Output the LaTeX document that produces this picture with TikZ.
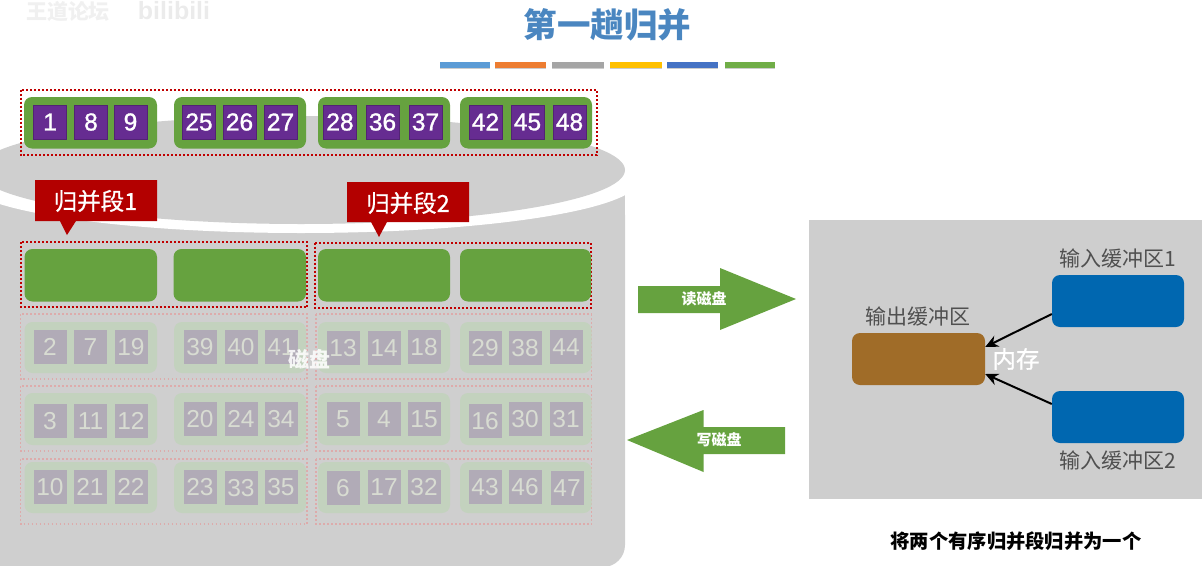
\documentclass[tikz,border=0pt]{standalone}
\usepackage{fontspec}
\setmainfont{Liberation Sans}
\newfontfamily\cjk{Noto Sans CJK SC}
\newfontfamily\cjkm[FakeBold=0.8]{Noto Sans CJK SC}
\newfontfamily\numf[FakeBold=1.2]{Liberation Sans}
\definecolor{diskgray}{HTML}{CFCFCF}
\definecolor{memgray}{HTML}{CECECE}
\definecolor{blockgreen}{HTML}{66A23F}
\definecolor{cellpurple}{HTML}{662C91}
\definecolor{tagred}{HTML}{B30000}
\definecolor{dotred}{HTML}{C00000}
\definecolor{titleblue}{HTML}{4A86C0}
\definecolor{inblue}{HTML}{0067B0}
\definecolor{outbrown}{HTML}{A06C28}
\definecolor{labelgray}{HTML}{505050}
\definecolor{fadegreen}{HTML}{C3D2BE}
\definecolor{fadepurple}{HTML}{B1ABB7}
\definecolor{fadetext}{HTML}{D8DCD2}
\definecolor{fadedot}{HTML}{DDABAB}
\newcommand{\fs}[1]{\fontsize{#1}{#1}\selectfont}
\usetikzlibrary{arrows.meta}
\tikzset{
  block/.style={fill=blockgreen,draw=none,rounded corners=8pt,inner sep=0pt},
  fadeblock/.style={fill=fadegreen,draw=none,rounded corners=8pt},
  dotbox/.style={draw=dotred,line width=2pt,dash pattern=on 2pt off 2pt},
  fadedotbox/.style={draw=fadedot,line width=1.6pt,dash pattern=on 1.8pt off 2.2pt},
  cellbox/.style={fill=cellpurple,draw=cellpurple!80!black,line width=.4pt,minimum width=33pt,minimum height=34pt,inner sep=0pt,text=white,font=\numf\fs{24.5}},
  fadecell/.style={fill=fadepurple,draw=none,minimum width=33pt,minimum height=34pt,inner sep=0pt,text=fadetext,font=\fs{24.5}},
  membox/.style={rounded corners=8pt,draw=none,minimum width=132pt,minimum height=52pt,inner sep=0pt},
  memlabel/.style={text=labelgray,font=\cjk\fs{21},inner sep=0pt},
  tagbox/.style={fill=tagred,draw=none},
  taglabel/.style={text=white,font=\cjkm\fs{23.5},inner sep=0pt},
  bigarrow/.style={fill=blockgreen,draw=none},
  arrowlabel/.style={text=white,font=\cjk\bfseries\fs{15},inner sep=0pt},
  merge/.style={-{Stealth[length=13pt,width=12pt]},line width=2pt,black}
}
\begin{document}
\begin{tikzpicture}[x=1pt,y=-1pt]
\useasboundingbox (0,0) rectangle (1202,565);
% watermark
\node[text=black!6,font=\cjk\bfseries\fs{21},inner sep=0pt] (wm1) at (68,12) {王道论坛};
\node[text=black!8,font=\bfseries\fs{25},inner sep=0pt] (wm2) at (174,11) {bilibili};
% title and bars
\node[text=titleblue,font=\cjk\bfseries\fs{33.5},inner sep=0pt] (title) at (607.5,25) {第一趟归并};
\foreach \a/\b/\c in {440/490/5B9BD5,495/546/ED7D31,552/604/A5A5A5,610/662/FFC000,667/718/4472C4,725/775/70AD47}{
  \definecolor{barc}{HTML}{\c}
  \fill[black!20] (\a,63) rectangle (\b,69);
  \fill[barc] (\a,61.5) rectangle (\b,67.5);
}
% disk
\fill[diskgray,rounded corners=22pt] (-30,193) -- (625,193) -- (625,567) -- (-30,567) -- cycle;
\fill[diskgray] (-23,193) rectangle (625,225);
\fill[white] (301,180) ellipse [x radius=338,y radius=53];
\fill[diskgray] (301,170) ellipse [x radius=324,y radius=54];
% top run
\draw[dotbox] (20.5,89.5) rectangle (596.5,155);
\foreach \a/\b in {24/157,174/306,318/450,460/592}{
  \fill[block] (\a,97) rectangle (\b,148.5);
}
\foreach \x/\t in {50/1,91/8,130.5/9,199/25,239.5/26,280.5/27,340/28,382.5/36,425.5/37,485.5/42,527.5/45,569.5/48}{
  \node[cellbox] (top\t) at (\x,122) {\t};
}
% tags
\fill[tagbox] (35,180) -- (157,180) -- (157,221) -- (76,221) -- (67,235) -- (60,221) -- (35,221) -- cycle;
\node[taglabel] (tag1) at (95.5,201) {归并段1};
\fill[tagbox] (347,182) -- (469,182) -- (469,222) -- (387,222) -- (379,237) -- (371,222) -- (347,222) -- cycle;
\node[taglabel] (tag2) at (408,203) {归并段2};
% green row
\draw[dotbox] (20.5,242) rectangle (307,307);
\draw[dotbox] (315,242.5) rectangle (591,307.5);
\foreach \a/\b in {24.5/157,173.5/306,318/450,460/591}{
  \fill[block] (\a,249) rectangle (\b,301.5);
}
% faded rows
\foreach \ya/\yb/\yc/\yd in {314/379/322/373,386/451/393/445,459/524/462/513}{
  \draw[fadedotbox] (20.5,\ya) rectangle (307,\yb);
  \draw[fadedotbox] (316,\ya) rectangle (591.5,\yb);
  \foreach \a/\b in {24.5/157,174/306,318/450,460/591.5}{
    \fill[fadeblock] (\a,\yc) rectangle (\b,\yd);
  }
}
\foreach \x/\y/\t in {50/347/2,90.5/347/7,131/347/19,200/347/39,241/347/40,281/347/41,343/348/13,384/348/14,424/347/18,485/348/29,525/348/38,566/347/44,
  50/421/3,90.5/421/11,131/421/12,200/419/20,241/419/24,281/419/34,343/419/5,384/419/4,424/419/15,485/421/16,525/419/30,566/419/31,
  50/487/10,90/487/21,131/487/22,200/487/23,241/488/33,281/487/35,343/488/6,384/487/17,424/487/32,485/487/43,525/487/46,567/488/47}{
  \node[fadecell] (low\t) at (\x,\y) {\t};
}
\node[text=white,opacity=.85,font=\cjk\bfseries\fs{21},inner sep=0pt] (disklabel) at (309,359) {磁盘};
% read and write arrows
\fill[bigarrow] (638,286) -- (720,286) -- (720,268) -- (796,299) -- (720,330) -- (720,313) -- (638,313) -- cycle;
\node[arrowlabel] (read) at (704,299) {读磁盘};
\fill[bigarrow] (785,427) -- (703.5,427) -- (703.5,410) -- (627,440) -- (703.5,472) -- (703.5,454) -- (785,454) -- cycle;
\node[arrowlabel] (write) at (719,440) {写磁盘};
% memory
\fill[memgray] (809,220) rectangle (1202,499);
\node[membox,fill=inblue] (in1) at (1118,301) {};
\node[membox,fill=inblue] (in2) at (1118,417) {};
\node[membox,fill=outbrown,minimum width=133pt] (out) at (918.5,359) {};
\node[memlabel] (in1l) at (1118,259) {输入缓冲区1};
\node[memlabel] (in2l) at (1118,461) {输入缓冲区2};
\node[memlabel] (outl) at (918,317) {输出缓冲区};
\node[text=white,font=\cjkm\fs{23.5},inner sep=0pt] (mem) at (1016,359) {内存};
\draw[merge] ([yshift=-13pt]in1.west) -- ([yshift=12pt]out.east);
\draw[merge] ([yshift=13pt]in2.west) -- ([yshift=-15pt]out.east);
\node[text=black,font=\cjk\bfseries\fs{19.3},inner sep=0pt] (caption) at (1016,541) {将两个有序归并段归并为一个};
\end{tikzpicture}
\end{document}
